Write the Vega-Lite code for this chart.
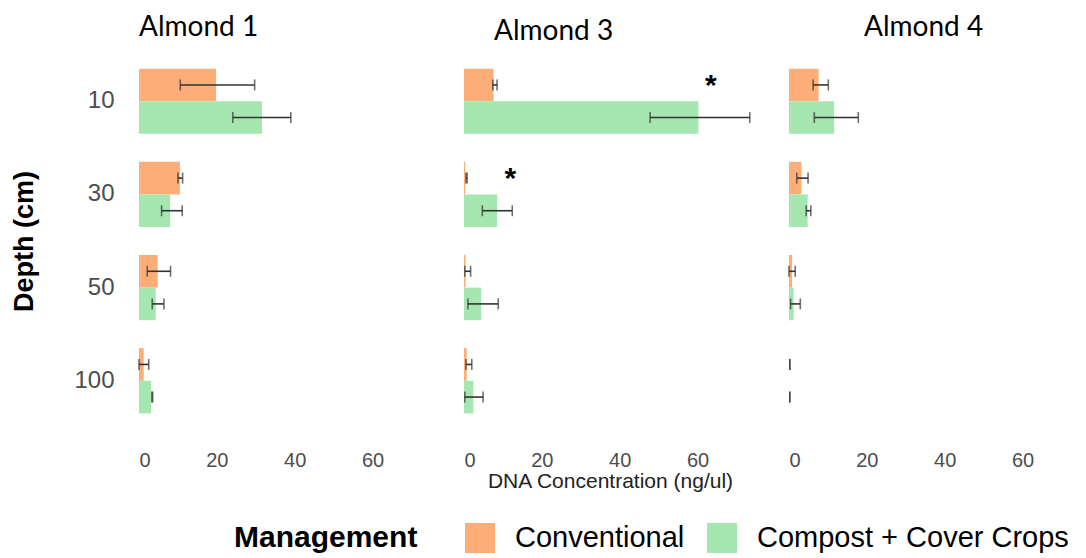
{
  "$schema": "https://vega.github.io/schema/vega-lite/v6.json",
  "background": "white",
  "padding": {"left": 10, "top": 14, "right": 4, "bottom": 2},
  "bounds": "flush",
  "spacing": 33,
  "config": {
    "view": {"stroke": null},
    "axis": {"grid": false, "domain": false, "ticks": false},
    "axisX": {"labelFontSize": 20, "labelColor": "#4d4d4d", "labelFont": "Liberation Sans", "labelPadding": 18, "titleFontSize": 21, "titleFontWeight": "normal", "titleColor": "#222222", "titleFont": "Liberation Sans", "titlePadding": 0},
    "axisY": {"labelFontSize": 24, "labelColor": "#4d4d4d", "labelFont": "Liberation Sans", "labelPadding": 25, "titleFontSize": 27, "titleFontWeight": "bold", "titleColor": "black", "titleFont": "Liberation Sans", "titlePadding": 35},
    "title": {"anchor": "start", "frame": "group", "fontSize": 28, "font": "Lato", "fontWeight": "normal", "color": "black"},
    "legend": {"orient": "none", "legendX": 95, "legendY": 473, "direction": "horizontal", "titleOrient": "left", "titleFontSize": 30, "titleFont": "Liberation Sans", "titleFontWeight": "bold", "titleColor": "black", "titleLimit": 400, "titlePadding": 47, "labelFontSize": 29, "labelFont": "Liberation Sans", "labelColor": "black", "labelLimit": 400, "symbolType": "square", "symbolSize": 900, "symbolStrokeWidth": 0, "symbolOpacity": 1, "labelOffset": 20, "columnPadding": 22}
  },
  "datasets": {
    "dna": [
      {"panel": "Almond 1", "depth": "10", "management": "Conventional", "value": 19.8, "lower": 10.6, "upper": 29.7},
      {"panel": "Almond 1", "depth": "10", "management": "Compost + Cover Crops", "value": 31.6, "lower": 24.1, "upper": 39.0},
      {"panel": "Almond 1", "depth": "30", "management": "Conventional", "value": 10.5, "lower": 10.0, "upper": 11.2},
      {"panel": "Almond 1", "depth": "30", "management": "Compost + Cover Crops", "value": 8.0, "lower": 5.8, "upper": 11.1},
      {"panel": "Almond 1", "depth": "50", "management": "Conventional", "value": 4.8, "lower": 2.1, "upper": 8.1},
      {"panel": "Almond 1", "depth": "50", "management": "Compost + Cover Crops", "value": 4.3, "lower": 3.4, "upper": 6.4},
      {"panel": "Almond 1", "depth": "100", "management": "Conventional", "value": 1.2, "lower": 0.0, "upper": 2.5},
      {"panel": "Almond 1", "depth": "100", "management": "Compost + Cover Crops", "value": 3.1, "lower": 3.3, "upper": 3.5},
      {"panel": "Almond 3", "depth": "10", "management": "Conventional", "value": 7.6, "lower": 7.4, "upper": 8.5},
      {"panel": "Almond 3", "depth": "10", "management": "Compost + Cover Crops", "value": 60.2, "lower": 47.8, "upper": 73.4},
      {"panel": "Almond 3", "depth": "30", "management": "Conventional", "value": 0.3, "lower": 0.5, "upper": 0.8},
      {"panel": "Almond 3", "depth": "30", "management": "Compost + Cover Crops", "value": 8.5, "lower": 4.7, "upper": 12.4},
      {"panel": "Almond 3", "depth": "50", "management": "Conventional", "value": 0.4, "lower": 0.2, "upper": 1.7},
      {"panel": "Almond 3", "depth": "50", "management": "Compost + Cover Crops", "value": 4.4, "lower": 1.0, "upper": 8.8},
      {"panel": "Almond 3", "depth": "100", "management": "Conventional", "value": 0.7, "lower": 0.5, "upper": 2.0},
      {"panel": "Almond 3", "depth": "100", "management": "Compost + Cover Crops", "value": 2.4, "lower": 0.2, "upper": 4.9},
      {"panel": "Almond 4", "depth": "10", "management": "Conventional", "value": 7.6, "lower": 6.2, "upper": 10.1},
      {"panel": "Almond 4", "depth": "10", "management": "Compost + Cover Crops", "value": 11.6, "lower": 6.5, "upper": 17.8},
      {"panel": "Almond 4", "depth": "30", "management": "Conventional", "value": 3.2, "lower": 2.0, "upper": 4.9},
      {"panel": "Almond 4", "depth": "30", "management": "Compost + Cover Crops", "value": 4.8, "lower": 4.4, "upper": 5.6},
      {"panel": "Almond 4", "depth": "50", "management": "Conventional", "value": 0.8, "lower": 0.0, "upper": 1.6},
      {"panel": "Almond 4", "depth": "50", "management": "Compost + Cover Crops", "value": 1.2, "lower": 0.4, "upper": 2.9},
      {"panel": "Almond 4", "depth": "100", "management": "Conventional", "value": 0.0, "lower": 0.2, "upper": 0.2},
      {"panel": "Almond 4", "depth": "100", "management": "Compost + Cover Crops", "value": 0.0, "lower": 0.2, "upper": 0.2}
    ],
    "stars": [
      {"panel": "Almond 3", "depth": "10", "management": "Conventional", "x": 63.4, "label": "*"},
      {"panel": "Almond 3", "depth": "30", "management": "Conventional", "x": 11.9, "label": "*"}
    ]
  },
  "hconcat": [
    {
      "width": 292, "height": 382,
      "title": {"text": "Almond 1", "dx": 0, "offset": 8},
      "data": {"name": "dna"},
      "transform": [{"filter": "datum.panel === 'Almond 1'"}],
      "encoding": {
        "y": {"field": "depth", "type": "nominal", "sort": ["10", "30", "50", "100"], "scale": {"paddingInner": 0.3, "paddingOuter": 0.2}, "axis": {"title": "Depth (cm)"}},
        "yOffset": {"field": "management", "type": "nominal", "sort": ["Conventional", "Compost + Cover Crops"], "scale": {"paddingInner": 0, "paddingOuter": 0}}
      },
      "layer": [
        {"mark": {"type": "bar"},
         "encoding": {
           "x": {"field": "value", "type": "quantitative", "scale": {"domain": [0, 75], "nice": false}, "title": null, "axis": {"values": [0, 20, 40, 60]}},
           "color": {"field": "management", "type": "nominal", "scale": {"domain": ["Conventional", "Compost + Cover Crops"], "range": ["#FDAE78", "#A6E6B0"]}, "legend": {"title": "Management"}}
         }},
        {"mark": {"type": "rule", "color": "#333333", "strokeWidth": 1.6},
         "encoding": {"x": {"field": "lower", "type": "quantitative", "title": null}, "x2": {"field": "upper"}}},
        {"mark": {"type": "tick", "color": "#333333", "thickness": 1.6, "size": 11, "orient": "vertical"},
         "encoding": {"x": {"field": "lower", "type": "quantitative", "title": null}}},
        {"mark": {"type": "tick", "color": "#333333", "thickness": 1.6, "size": 11, "orient": "vertical"},
         "encoding": {"x": {"field": "upper", "type": "quantitative", "title": null}}}
      ]
    },
    {
      "width": 292, "height": 382,
      "title": {"text": "Almond 3", "dx": 30, "offset": 4},
      "encoding": {
        "y": {"field": "depth", "type": "nominal", "sort": ["10", "30", "50", "100"], "scale": {"paddingInner": 0.3, "paddingOuter": 0.2}, "axis": null},
        "yOffset": {"field": "management", "type": "nominal", "sort": ["Conventional", "Compost + Cover Crops"], "scale": {"paddingInner": 0, "paddingOuter": 0}}
      },
      "layer": [
        {"data": {"name": "dna"}, "transform": [{"filter": "datum.panel === 'Almond 3'"}],
         "mark": {"type": "bar"},
         "encoding": {
           "x": {"field": "value", "type": "quantitative", "scale": {"domain": [0, 75], "nice": false}, "title": "DNA Concentration (ng/ul)", "axis": {"values": [0, 20, 40, 60]}},
           "color": {"field": "management", "type": "nominal", "scale": {"domain": ["Conventional", "Compost + Cover Crops"], "range": ["#FDAE78", "#A6E6B0"]}, "legend": {"title": "Management"}}
         }},
        {"data": {"name": "dna"}, "transform": [{"filter": "datum.panel === 'Almond 3'"}],
         "mark": {"type": "rule", "color": "#333333", "strokeWidth": 1.6},
         "encoding": {"x": {"field": "lower", "type": "quantitative", "title": "DNA Concentration (ng/ul)"}, "x2": {"field": "upper"}}},
        {"data": {"name": "dna"}, "transform": [{"filter": "datum.panel === 'Almond 3'"}],
         "mark": {"type": "tick", "color": "#333333", "thickness": 1.6, "size": 11, "orient": "vertical"},
         "encoding": {"x": {"field": "lower", "type": "quantitative", "title": "DNA Concentration (ng/ul)"}}},
        {"data": {"name": "dna"}, "transform": [{"filter": "datum.panel === 'Almond 3'"}],
         "mark": {"type": "tick", "color": "#333333", "thickness": 1.6, "size": 11, "orient": "vertical"},
         "encoding": {"x": {"field": "upper", "type": "quantitative", "title": "DNA Concentration (ng/ul)"}}},
        {"data": {"name": "stars"},
         "mark": {"type": "text", "fontSize": 30, "fontWeight": "bold", "font": "Liberation Sans", "color": "black", "baseline": "middle", "dy": 1},
         "encoding": {"x": {"field": "x", "type": "quantitative", "title": "DNA Concentration (ng/ul)"}, "text": {"field": "label"}}}
      ]
    },
    {
      "width": 292, "height": 382,
      "title": {"text": "Almond 4", "dx": 75, "offset": 8},
      "data": {"name": "dna"},
      "transform": [{"filter": "datum.panel === 'Almond 4'"}],
      "encoding": {
        "y": {"field": "depth", "type": "nominal", "sort": ["10", "30", "50", "100"], "scale": {"paddingInner": 0.3, "paddingOuter": 0.2}, "axis": null},
        "yOffset": {"field": "management", "type": "nominal", "sort": ["Conventional", "Compost + Cover Crops"], "scale": {"paddingInner": 0, "paddingOuter": 0}}
      },
      "layer": [
        {"mark": {"type": "bar"},
         "encoding": {
           "x": {"field": "value", "type": "quantitative", "scale": {"domain": [0, 75], "nice": false}, "title": null, "axis": {"values": [0, 20, 40, 60]}},
           "color": {"field": "management", "type": "nominal", "scale": {"domain": ["Conventional", "Compost + Cover Crops"], "range": ["#FDAE78", "#A6E6B0"]}, "legend": {"title": "Management"}}
         }},
        {"mark": {"type": "rule", "color": "#333333", "strokeWidth": 1.6},
         "encoding": {"x": {"field": "lower", "type": "quantitative", "title": null}, "x2": {"field": "upper"}}},
        {"mark": {"type": "tick", "color": "#333333", "thickness": 1.6, "size": 11, "orient": "vertical"},
         "encoding": {"x": {"field": "lower", "type": "quantitative", "title": null}}},
        {"mark": {"type": "tick", "color": "#333333", "thickness": 1.6, "size": 11, "orient": "vertical"},
         "encoding": {"x": {"field": "upper", "type": "quantitative", "title": null}}}
      ]
    }
  ]
}
